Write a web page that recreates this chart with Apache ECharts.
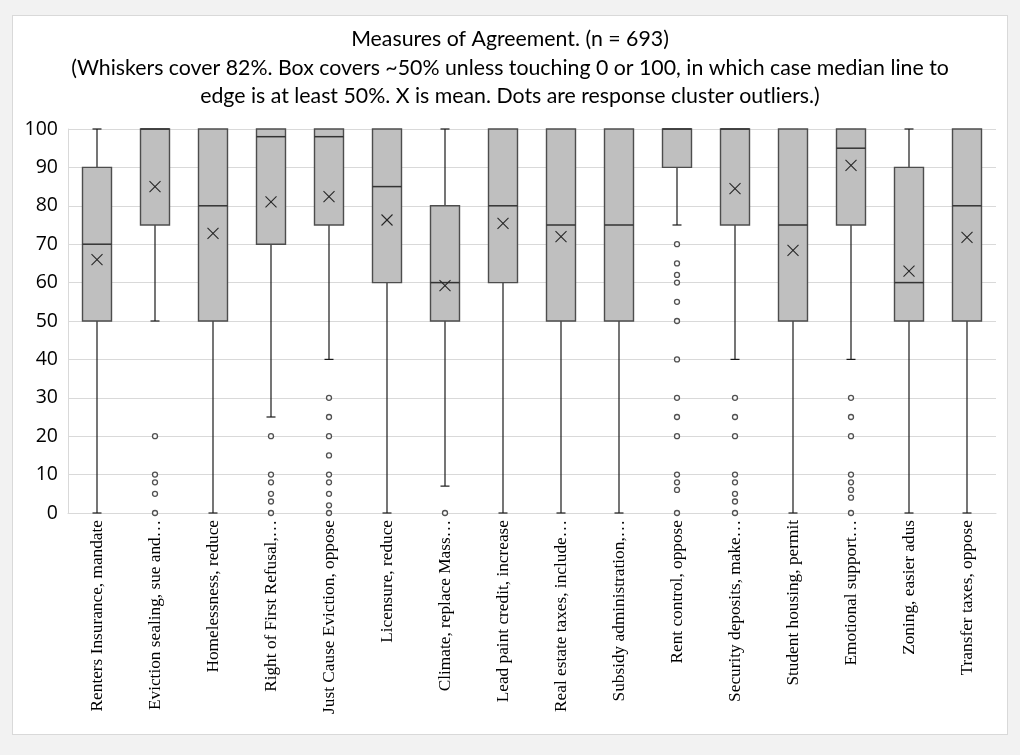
<!DOCTYPE html>
<html>
<head>
<meta charset="utf-8">
<script src="https://cdn.jsdelivr.net/npm/echarts@6/dist/echarts.min.js"></script>
<style>
  html, body { margin: 0; padding: 0; background: #f2f2f2; }
  #panel { position: absolute; left: 12px; top: 15px; width: 994px; height: 718px; background: #fff; border: 1px solid #d9d9d9; }
  #chart { position: absolute; left: 0; top: 0; width: 1020px; height: 755px; }
</style>
</head>
<body>
<div id="panel"></div>
<div id="chart"></div>
<script>
const categories = [
  "Renters Insurance, mandate",
  "Eviction sealing, sue and\u2026",
  "Homelessness, reduce",
  "Right of First Refusal,\u2026",
  "Just Cause Eviction, oppose",
  "Licensure, reduce",
  "Climate, replace Mass\u2026",
  "Lead paint credit, increase",
  "Real estate taxes, include\u2026",
  "Subsidy administration,\u2026",
  "Rent control, oppose",
  "Security deposits, make\u2026",
  "Student housing, permit",
  "Emotional support\u2026",
  "Zoning, easier adus",
  "Transfer taxes, oppose"
];
const whiskerLow  = [0, 50, 0, 25, 40, 0, 7, 0, 0, 0, 75, 40, 0, 40, 0, 0];
const q1          = [50, 75, 50, 70, 75, 60, 50, 60, 50, 50, 90, 75, 50, 75, 50, 50];
const median      = [70, 100, 80, 98, 98, 85, 60, 80, 75, 75, 100, 100, 75, 95, 60, 80];
const q3          = [90, 100, 100, 100, 100, 100, 80, 100, 100, 100, 100, 100, 100, 100, 90, 100];
const whiskerHigh = [100, 100, 100, 100, 100, 100, 100, 100, 100, 100, 100, 100, 100, 100, 100, 100];
const means       = [66, 85, 72.8, 81, 82.4, 76.3, 59.2, 75.4, 72, null, null, 84.5, 68.4, 90.5, 63, 71.8];
const outliers = [
  [], [20, 10, 8, 5, 0], [], [20, 10, 8, 5, 3, 0], [30, 25, 20, 15, 10, 8, 5, 2, 0],
  [], [0], [], [], [], [70, 65, 62, 60, 55, 50, 40, 30, 25, 20, 10, 8, 6, 0],
  [30, 25, 20, 10, 8, 5, 3, 0], [], [30, 25, 20, 10, 8, 6, 4, 0], [], []
];
const yTicks = { min: 0, max: 100, interval: 10 };

const boxData = categories.map((c, i) => [i, whiskerLow[i], q1[i], median[i], q3[i], whiskerHigh[i]]);
const meanData = [];
means.forEach((m, i) => { if (m !== null) meanData.push([i, m]); });
const outlierData = [];
outliers.forEach((arr, i) => arr.forEach(v => outlierData.push([i, v])));

const chart = echarts.init(document.getElementById('chart'), null, { renderer: 'canvas' });

function renderBox(params, api) {
  const idx = api.value(0);
  const band = api.size([1, 0])[0];
  const bw = band * 0.5;
  const cap = 9;
  const pLow = api.coord([idx, api.value(1)]);
  const pQ1 = api.coord([idx, api.value(2)]);
  const pMed = api.coord([idx, api.value(3)]);
  const pQ3 = api.coord([idx, api.value(4)]);
  const pHigh = api.coord([idx, api.value(5)]);
  const x = pQ1[0];
  const children = [];
  const wStyle = { stroke: '#1a1a1a', lineWidth: 1.2 };
  if (api.value(1) < api.value(2)) {
    children.push({ type: 'line', shape: { x1: x, y1: pQ1[1], x2: x, y2: pLow[1] }, style: wStyle });
    children.push({ type: 'line', shape: { x1: x - cap / 2, y1: pLow[1], x2: x + cap / 2, y2: pLow[1] }, style: wStyle });
  }
  if (api.value(5) > api.value(4)) {
    children.push({ type: 'line', shape: { x1: x, y1: pQ3[1], x2: x, y2: pHigh[1] }, style: wStyle });
    children.push({ type: 'line', shape: { x1: x - cap / 2, y1: pHigh[1], x2: x + cap / 2, y2: pHigh[1] }, style: wStyle });
  }
  children.push({ type: 'rect', shape: { x: x - bw / 2, y: pQ3[1], width: bw, height: pQ1[1] - pQ3[1] },
    style: { fill: '#bfbfbf', stroke: '#4d4d4d', lineWidth: 1.4 } });
  children.push({ type: 'line', shape: { x1: x - bw / 2, y1: pMed[1], x2: x + bw / 2, y2: pMed[1] },
    style: { stroke: '#333', lineWidth: 1.5 } });
  return { type: 'group', children: children };
}

function renderMean(params, api) {
  const p = api.coord([api.value(0), api.value(1)]);
  const s = 5.5;
  const st = { stroke: '#262626', lineWidth: 1.1 };
  return { type: 'group', children: [
    { type: 'line', shape: { x1: p[0] - s, y1: p[1] - s, x2: p[0] + s, y2: p[1] + s }, style: st },
    { type: 'line', shape: { x1: p[0] - s, y1: p[1] + s, x2: p[0] + s, y2: p[1] - s }, style: st }
  ]};
}

chart.setOption({
  backgroundColor: 'transparent',
  animation: false,
  title: {
    text: 'Measures of Agreement. (n = 693)\n(Whiskers cover 82%. Box covers ~50% unless touching 0 or 100, in which case median line to\nedge is at least 50%. X is mean. Dots are response cluster outliers.)',
    left: 'center',
    top: 20,
    textStyle: { fontFamily: 'Lato', fontSize: 21.3, fontWeight: 'normal', color: '#000', lineHeight: 28.5 }
  },
  grid: { left: 68, right: 24, top: 129, bottom: 242 },
  xAxis: {
    type: 'category',
    data: categories,
    boundaryGap: true,
    axisLine: { show: true, lineStyle: { color: '#d9d9d9', width: 1 } },
    axisTick: { show: false },
    axisLabel: { interval: 0, rotate: 90, margin: 7, fontFamily: 'Liberation Serif', fontSize: 17.3, color: '#000' },
    splitLine: { show: false }
  },
  yAxis: {
    type: 'value',
    min: yTicks.min, max: yTicks.max, interval: yTicks.interval,
    axisLine: { show: true, lineStyle: { color: '#d9d9d9' } },
    axisTick: { show: false },
    axisLabel: { margin: 10, fontFamily: 'Open Sans', fontSize: 19.5, color: '#000' },
    splitLine: { show: true, lineStyle: { color: '#d9d9d9', width: 1 } }
  },
  series: [
    { type: 'custom', renderItem: renderBox, data: boxData, encode: { x: 0, y: [1, 2, 3, 4, 5] }, z: 2 },
    { type: 'custom', renderItem: renderMean, data: meanData, encode: { x: 0, y: 1 }, z: 3 },
    { type: 'scatter', data: outlierData, symbol: 'circle', symbolSize: 5, z: 4,
      itemStyle: { color: '#fff', borderColor: '#262626', borderWidth: 1.3 } }
  ]
});
</script>
</body>
</html>
